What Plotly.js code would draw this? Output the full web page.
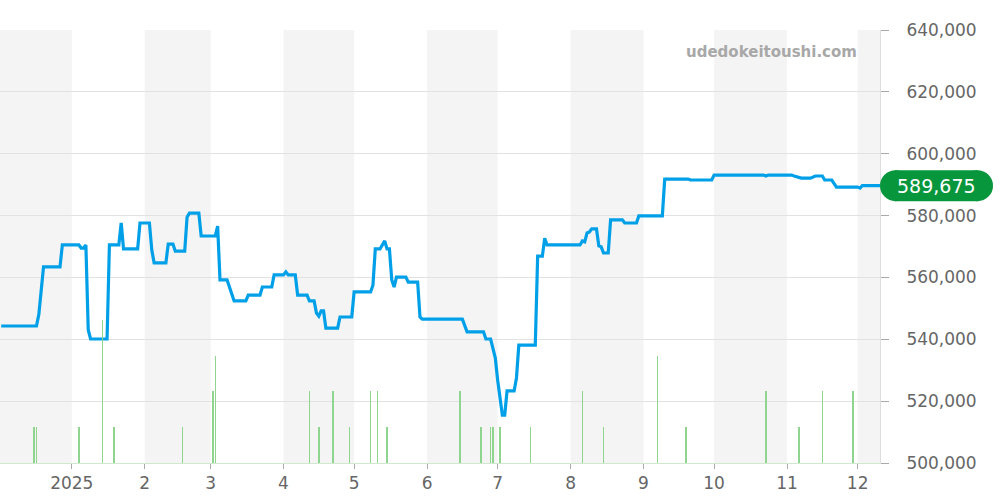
<!DOCTYPE html>
<html>
<head>
<meta charset="utf-8">
<script src="https://cdn.plot.ly/plotly-3.0.1.min.js"></script>
<style>html,body{margin:0;padding:0;background:#fff;}#chart{width:1000px;height:500px;}</style>
</head>
<body>
<div id="chart"></div>
<script>
// Price series (JPY)
const priceDates = [
 '2024-12-02','2024-12-17','2024-12-18','2024-12-20','2024-12-27','2024-12-28',
 '2025-01-04','2025-01-05','2025-01-06','2025-01-07','2025-01-08','2025-01-09','2025-01-16','2025-01-17',
 '2025-01-21','2025-01-22','2025-01-23','2025-01-29','2025-01-30','2025-02-03','2025-02-04','2025-02-05',
 '2025-02-10','2025-02-11','2025-02-13','2025-02-14','2025-02-18','2025-02-19','2025-02-20','2025-02-24',
 '2025-02-25','2025-03-03','2025-03-04','2025-03-05','2025-03-08','2025-03-11','2025-03-16','2025-03-17',
 '2025-03-22','2025-03-23','2025-03-27','2025-03-28','2025-04-01','2025-04-02','2025-04-03','2025-04-06',
 '2025-04-07','2025-04-11','2025-04-12','2025-04-14','2025-04-15','2025-04-16','2025-04-17','2025-04-18',
 '2025-04-19','2025-04-24','2025-04-25','2025-04-30','2025-05-01','2025-05-08','2025-05-09','2025-05-10',
 '2025-05-12','2025-05-14','2025-05-15','2025-05-16','2025-05-17','2025-05-18','2025-05-19','2025-05-23',
 '2025-05-24','2025-05-28','2025-05-29','2025-05-30','2025-06-16','2025-06-18','2025-06-25','2025-06-26',
 '2025-06-28','2025-06-30','2025-07-01','2025-07-03','2025-07-04','2025-07-05','2025-07-08','2025-07-09',
 '2025-07-10','2025-07-17','2025-07-18','2025-07-20','2025-07-21','2025-07-22','2025-08-05','2025-08-06',
 '2025-08-07','2025-08-08','2025-08-09','2025-08-10','2025-08-12','2025-08-13','2025-08-14','2025-08-15',
 '2025-08-17','2025-08-18','2025-08-23','2025-08-24','2025-08-29','2025-08-30','2025-09-09','2025-09-10',
 '2025-09-20','2025-09-21','2025-09-30','2025-10-01','2025-10-22','2025-10-23','2025-10-24','2025-11-03',
 '2025-11-04','2025-11-07','2025-11-11','2025-11-13','2025-11-16','2025-11-17','2025-11-20','2025-11-22',
 '2025-12-01','2025-12-02','2025-12-03','2025-12-10 12:00'
];
const priceValues = [
 544300,544300,548000,563400,563400,570500,
 570500,569500,569500,570500,543000,540100,540100,570500,
 570500,577600,569200,569200,577600,577600,568900,564700,
 564700,570800,570800,568500,568500,579500,580800,580800,
 573400,573400,576600,559200,559200,552400,552400,554300,
 554300,556900,556900,560800,560800,561800,560800,560800,
 554300,554300,552400,552400,548500,547500,549200,549200,
 543600,543600,547200,547200,555300,555300,557500,569200,
 569200,571800,569200,569200,559200,556900,560100,560100,
 558500,558500,547200,546500,546500,542400,542400,540100,
 540100,534000,526800,515500,515500,523300,523300,527500,
 538100,538100,566900,566900,572700,570500,570500,571800,
 571500,574400,574700,575700,575700,570200,569900,567900,
 567900,578600,578600,577600,577600,579900,579900,591800,
 591800,591500,591500,593100,593100,592800,593100,593100,
 592800,592100,592100,592800,592800,591500,591500,589200,
 589200,588900,589675,589675
];
// Number of trades per day
const volDates = [
 '2024-12-16','2024-12-17','2025-01-04','2025-01-14','2025-01-19','2025-02-17','2025-03-02','2025-03-03',
 '2025-04-12','2025-04-16','2025-04-22','2025-04-29','2025-05-08','2025-05-11','2025-05-15','2025-06-15',
 '2025-06-24','2025-06-28','2025-06-29','2025-07-02','2025-07-15','2025-08-06','2025-08-15','2025-09-07',
 '2025-09-19','2025-10-23','2025-11-06','2025-11-16','2025-11-29'
];
const volValues = [1,1,1,4,1,1,2,3, 2,1,2,1,2,2,1,2, 1,1,1,1,1,2,1,3, 1,2,1,2,2];

const tickVals = ['2025-01-01','2025-02-01','2025-03-01','2025-04-01','2025-05-01','2025-06-01',
 '2025-07-01','2025-08-01','2025-09-01','2025-10-01','2025-11-01','2025-12-01'];
const tickText = ['2025','2','3','4','5','6','7','8','9','10','11','12'];
const shadedMonths = ['2024-12-01','2025-02-01','2025-04-01','2025-06-01','2025-08-01','2025-10-01','2025-12-01'];
const lastPrice = 589675;
const watermark = 'udedokeitoushi.com';

function nextMonth(s){
  const d = new Date(s + 'T00:00:00Z');
  d.setUTCMonth(d.getUTCMonth()+1);
  return d.toISOString().slice(0,10);
}

const shapes = shadedMonths.map(m => ({
  type:'rect', xref:'x', yref:'paper', x0:m, x1:nextMonth(m), y0:0, y1:1,
  fillcolor:'#f4f4f4', line:{width:0}, layer:'below'
}));
// price badge (pill)
const badgeColor = '#08963c';
shapes.push({type:'rect', xref:'paper', yref:'y', xsizemode:'pixel', ysizemode:'pixel',
  xanchor:1, yanchor:lastPrice, x0:15, x1:98, y0:-15.5, y1:15.5, fillcolor:badgeColor, line:{width:0}});
shapes.push({type:'circle', xref:'paper', yref:'y', xsizemode:'pixel', ysizemode:'pixel',
  xanchor:1, yanchor:lastPrice, x0:0, x1:31, y0:-15.5, y1:15.5, fillcolor:badgeColor, line:{width:0}});
shapes.push({type:'circle', xref:'paper', yref:'y', xsizemode:'pixel', ysizemode:'pixel',
  xanchor:1, yanchor:lastPrice, x0:82, x1:113, y0:-15.5, y1:15.5, fillcolor:badgeColor, line:{width:0}});

const traces = [
  {type:'bar', x:volDates, y:volValues, yaxis:'y2', width:0.6*86400000,
   marker:{color:'#8fd48f', line:{width:0}}, hoverinfo:'skip'},
  {type:'scatter', mode:'lines', x:priceDates, y:priceValues,
   line:{color:'#00a0e9', width:3.2}, hoverinfo:'skip'}
];

const font = {family:'DejaVu Sans, sans-serif', size:17, color:'#666'};
const layout = {
  width:1000, height:500,
  margin:{l:0, r:120, t:30, b:37},
  paper_bgcolor:'#fff', plot_bgcolor:'rgba(0,0,0,0)',
  showlegend:false, font:font,
  xaxis:{type:'date', range:['2024-12-01 12:00','2025-12-10 12:00'],
    tickvals:tickVals, ticktext:tickText, ticks:'outside', ticklen:5, tickcolor:'#aaa',
    showgrid:false, zeroline:false, showline:true, linecolor:'#cfe9cf', linewidth:1,
    tickfont:font, fixedrange:true},
  yaxis:{side:'right', range:[500000,640000], dtick:20000, tickformat:',d',
    ticks:'outside', ticklen:8, tickcolor:'#aaa', ticklabelstandoff:14,
    showgrid:true, gridcolor:'#e2e2e2', gridwidth:1, zeroline:false,
    showline:true, linecolor:'#dddddd', tickfont:font},
  yaxis2:{overlaying:'y', range:[0,12.1], visible:false, showgrid:false},
  shapes:shapes,
  annotations:[
    {xref:'paper', yref:'y', x:1, y:lastPrice, xanchor:'center', yanchor:'middle', xshift:56.5,
     text:lastPrice.toLocaleString('en-US'), showarrow:false,
     font:{family:'DejaVu Sans, sans-serif', size:19, color:'#fff'}},
    {xref:'paper', yref:'paper', x:859/880, y:(463-52)/433, xanchor:'right', yanchor:'middle',
     text:'<b>'+watermark+'</b>', showarrow:false,
     font:{family:'DejaVu Sans, sans-serif', size:15, color:'#a8a8a8'}}
  ],
  bargap:0
};
Plotly.newPlot('chart', traces, layout, {staticPlot:true, displayModeBar:false});
</script>
</body>
</html>
